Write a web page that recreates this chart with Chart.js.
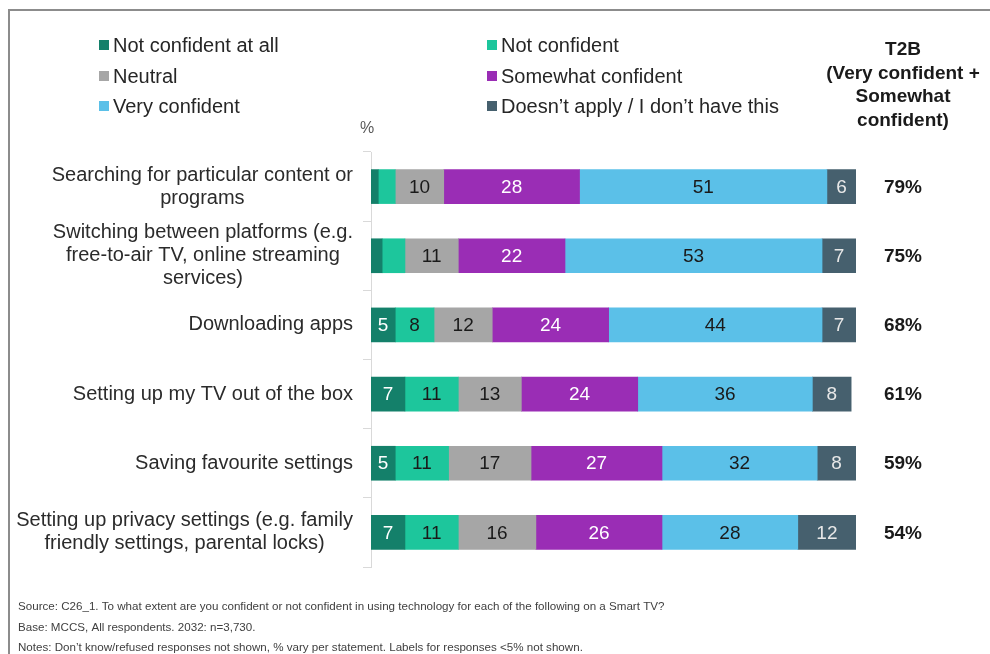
<!DOCTYPE html>
<html lang="en">
<head>
<meta charset="UTF-8">
<title>Smart TV confidence</title>
<script src="https://cdn.jsdelivr.net/npm/chart.js"></script>
<style>
    body {
        margin: 0;
        padding: 0;
        background: #ffffff;
    }
    .chart-box {
        position: relative;
        width: 990px;
        height: 654px;
    }
</style>
</head>
<body>
<div class="chart-box">
    <canvas id="confidenceChart"></canvas>
</div>

<script>
// Statements, one bar each (multi-line labels)
const categories = [
    ['Searching for particular content or', 'programs'],
    ['Switching between platforms (e.g.', 'free-to-air TV, online streaming', 'services)'],
    ['Downloading apps'],
    ['Setting up my TV out of the box'],
    ['Saving favourite settings'],
    ['Setting up privacy settings (e.g. family', 'friendly settings, parental locks)']
];

// Response shares, %
const notConfidentAtAll = [1.5, 2.3, 5, 7, 5, 7];
const notConfident = [3.5, 4.7, 8, 11, 11, 11];
const neutral = [10, 11, 12, 13, 17, 16];
const somewhatConfident = [28, 22, 24, 24, 27, 26];
const veryConfident = [51, 53, 44, 36, 32, 28];
const doesntApply = [6, 7, 7, 8, 8, 12];

// Top two box (very + somewhat confident)
const t2b = [79, 75, 68, 61, 59, 54];

const seriesNames = ['Not confident at all', 'Not confident', 'Neutral', 'Somewhat confident', 'Very confident', 'Doesn\u2019t apply / I don\u2019t have this'];
const seriesValues = [notConfidentAtAll, notConfident, neutral, somewhatConfident, veryConfident, doesntApply];
const seriesColors = ['#14806a', '#1dc69c', '#a6a6a6', '#9a2db5', '#5bc0e8', '#46606e'];
const labelColors = ['#ffffff', '#1a1a1a', '#1a1a1a', '#ffffff', '#1a1a1a', '#e8e8e8'];

const FONT = '"Liberation Sans", Arial, sans-serif';

// outer frame, legend, headers and notes
const decorations = {
    id: 'decorations',
    beforeDraw(chart) {
        const ctx = chart.ctx;
        ctx.save();
        ctx.strokeStyle = '#8c8c8c';
        ctx.lineWidth = 2;
        ctx.beginPath();
        ctx.moveTo(9, 654);
        ctx.lineTo(9, 10);
        ctx.lineTo(990, 10);
        ctx.stroke();
        ctx.restore();
    },
    afterDraw(chart) {
        const ctx = chart.ctx;
        ctx.save();
        ctx.textBaseline = 'middle';

        // legend: two columns, three rows
        const colX = [99, 487];
        const rowY = [45, 76, 106];
        ctx.font = '20px ' + FONT;
        chart.data.datasets.forEach((ds, i) => {
            const x = colX[i % 2];
            const y = rowY[Math.floor(i / 2)];
            ctx.fillStyle = ds.backgroundColor;
            ctx.fillRect(x, y - 5, 10, 10);
            ctx.fillStyle = '#262626';
            ctx.textAlign = 'left';
            ctx.fillText(ds.label, x + 14, y + 1);
        });

        // unit marker
        ctx.font = '16px ' + FONT;
        ctx.fillStyle = '#595959';
        ctx.textAlign = 'center';
        ctx.fillText('%', 367, 129);

        // T2B column header
        ctx.font = 'bold 19px ' + FONT;
        ctx.fillStyle = '#1a1a1a';
        ['T2B', '(Very confident +', 'Somewhat', 'confident)'].forEach((line, i) => {
            ctx.fillText(line, 903, 50 + i * 23.5);
        });

        // footnotes
        ctx.font = '11.6px ' + FONT;
        ctx.fillStyle = '#404040';
        ctx.textAlign = 'left';
        ctx.fillText('Source: C26_1. To what extent are you confident or not confident in using technology for each of the following on a Smart TV?', 18, 607);
        ctx.fillText('Base: MCCS, All respondents. 2032: n=3,730.', 18, 628);
        ctx.fillText('Notes: Don\u2019t know/refused responses not shown, % vary per statement. Labels for responses <5% not shown.', 18, 648);
        ctx.restore();
    }
};

// category labels: block right-aligned to the axis, lines centred within the block
const categoryLabels = {
    id: 'categoryLabels',
    afterDraw(chart) {
        const ctx = chart.ctx;
        const yScale = chart.scales.y;
        ctx.save();
        ctx.font = '20px ' + FONT;
        ctx.fillStyle = '#2b2b2b';
        ctx.textAlign = 'center';
        ctx.textBaseline = 'middle';
        const lineH = 23;
        chart.data.labels.forEach((lines, i) => {
            const yc = yScale.getPixelForValue(i);
            const blockW = Math.max(...lines.map(l => ctx.measureText(l).width));
            const xc = 353 - blockW / 2;
            lines.forEach((line, j) => {
                ctx.fillText(line, xc, yc + (j - (lines.length - 1) / 2) * lineH);
            });
        });

        // T2B values beside each bar
        ctx.font = 'bold 19px ' + FONT;
        ctx.fillStyle = '#1a1a1a';
        t2b.forEach((v, i) => {
            ctx.fillText(v + '%', 903, yScale.getPixelForValue(i) + 1);
        });
        ctx.restore();
    }
};

// values inside the segments, skipped below 5%
const segmentLabels = {
    id: 'segmentLabels',
    afterDatasetsDraw(chart) {
        const ctx = chart.ctx;
        ctx.save();
        ctx.font = '19px ' + FONT;
        ctx.textAlign = 'center';
        ctx.textBaseline = 'middle';
        chart.data.datasets.forEach((ds, di) => {
            const meta = chart.getDatasetMeta(di);
            meta.data.forEach((bar, i) => {
                const v = ds.data[i];
                if (v < 5) return;
                ctx.fillStyle = labelColors[di];
                ctx.fillText(v, (bar.x + bar.base) / 2, bar.y + 1);
            });
        });
        ctx.restore();
    }
};

const ctx = document.getElementById('confidenceChart').getContext('2d');
new Chart(ctx, {
    type: 'bar',
    data: {
        labels: categories,
        datasets: seriesValues.map((vals, i) => ({
            label: seriesNames[i],
            data: vals,
            backgroundColor: seriesColors[i],
            borderWidth: 0,
            barThickness: 34
        }))
    },
    options: {
        indexAxis: 'y',
        responsive: true,
        maintainAspectRatio: false,
        animation: false,
        layout: {
            padding: { top: 152, right: 134, bottom: 87, left: 0 }
        },
        scales: {
            x: {
                display: false,
                stacked: true,
                min: 0,
                max: 100
            },
            y: {
                stacked: true,
                grid: {
                    offset: true,
                    drawOnChartArea: false,
                    tickLength: 8,
                    color: '#d9d9d9'
                },
                border: { color: '#d9d9d9' },
                ticks: { display: false },
                afterFit(scale) {
                    scale.width = 371;
                }
            }
        },
        plugins: {
            legend: { display: false },
            tooltip: { enabled: false }
        }
    },
    plugins: [decorations, categoryLabels, segmentLabels]
});
</script>
</body>
</html>
